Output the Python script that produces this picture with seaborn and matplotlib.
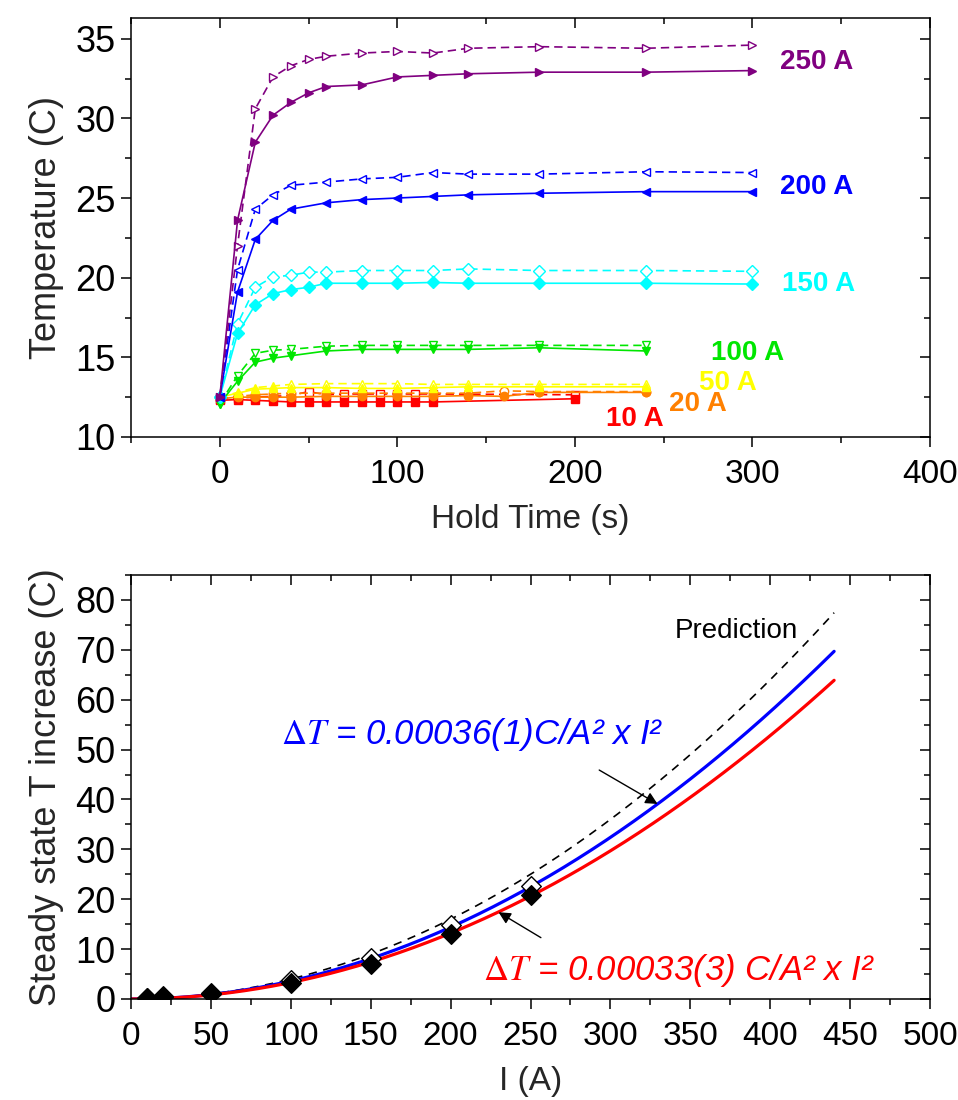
import numpy as np
import pandas as pd
import matplotlib
matplotlib.use("Agg")
import matplotlib.pyplot as plt
import seaborn as sns
from matplotlib import font_manager
from matplotlib.ticker import MultipleLocator

sns.set_theme(style="ticks")
plt.rcParams['font.family'] = ['Liberation Sans', 'DejaVu Sans']
plt.rcParams['mathtext.fontset'] = 'stix'

_names = {f.name for f in font_manager.fontManager.ttflist}
NARROW = 'Liberation Sans Narrow' if 'Liberation Sans Narrow' in _names else 'Liberation Sans'

# ---------------- Top panel data: temperature vs hold time ----------------
t_250 = [0, 10, 20, 30, 40, 50, 60, 80, 100, 120, 140, 180, 240, 300]
T_250_solid = [12.5, 23.6, 28.5, 30.2, 31.0, 31.6, 32.0, 32.1, 32.6, 32.7, 32.8, 32.9, 32.9, 33.0]
T_250_dash = [12.5, 22.0, 30.6, 32.6, 33.3, 33.7, 33.9, 34.1, 34.2, 34.1, 34.4, 34.5, 34.4, 34.6]

t_200 = [0, 10, 20, 30, 40, 60, 80, 100, 120, 140, 180, 240, 300]
T_200_solid = [12.5, 19.1, 22.4, 23.6, 24.3, 24.7, 24.9, 25.0, 25.1, 25.2, 25.3, 25.4, 25.4]
T_200_dash = [12.5, 20.5, 24.3, 25.2, 25.8, 26.0, 26.2, 26.3, 26.6, 26.5, 26.5, 26.65, 26.6]

t_150 = [0, 10, 20, 30, 40, 50, 60, 80, 100, 120, 140, 180, 240, 300]
T_150_solid = [12.5, 16.5, 18.3, 19.0, 19.25, 19.4, 19.65, 19.65, 19.65, 19.7, 19.65, 19.65, 19.65, 19.6]
T_150_dash = [12.5, 17.1, 19.4, 20.05, 20.15, 20.35, 20.35, 20.45, 20.45, 20.45, 20.55, 20.45, 20.45, 20.4]

t_100 = [0, 10, 20, 30, 40, 60, 80, 100, 120, 140, 180, 240]
T_100_solid = [12.1, 13.5, 14.7, 14.95, 15.1, 15.4, 15.5, 15.5, 15.5, 15.5, 15.6, 15.4]
T_100_dash = [12.1, 13.85, 15.25, 15.45, 15.5, 15.7, 15.75, 15.75, 15.75, 15.75, 15.75, 15.75]

t_50 = [0, 10, 20, 30, 40, 60, 80, 100, 120, 140, 180, 240]
T_50_solid = [12.5, 12.75, 13.0, 13.05, 13.1, 13.1, 13.05, 13.05, 13.1, 13.15, 13.15, 13.15]
T_50_dash = [12.5, 12.8, 13.1, 13.2, 13.3, 13.35, 13.35, 13.35, 13.3, 13.3, 13.3, 13.3]

t_20 = [0, 10, 20, 30, 40, 60, 80, 100, 120, 140, 160, 180, 240]
T_20_solid = [12.4, 12.5, 12.5, 12.5, 12.5, 12.55, 12.55, 12.55, 12.55, 12.6, 12.55, 12.8, 12.8]
T_20_dash = [12.4, 12.55, 12.65, 12.7, 12.75, 12.75, 12.75, 12.75, 12.75, 12.75, 12.9, 12.85, 12.85]

t_10 = [0, 10, 20, 30, 40, 50, 60, 70, 80, 90, 100, 110, 120, 200]
T_10_solid = [12.3, 12.35, 12.3, 12.25, 12.2, 12.2, 12.2, 12.2, 12.2, 12.2, 12.2, 12.2, 12.2, 12.4]
T_10_dash = [12.4, 12.45, 12.5, 12.55, 12.6, 12.85, 12.65, 12.7, 12.7, 12.7, 12.7, 12.7, 12.7, 12.65]

currents = ['10 A', '20 A', '50 A', '100 A', '150 A', '200 A', '250 A']
colors = ['#FF0000', '#FF8000', '#FFFF00', '#00E600', '#00FFFF', '#0000FF', '#800080']
markers = ['s', 'o', '^', 'v', 'D', '<', '>']
label_x = [234, 269, 286, 297, 337, 336, 336]
label_y = [11.1, 12.05, 13.4, 15.25, 19.6, 25.7, 33.55]

series = [
    (t_10, T_10_solid, T_10_dash),
    (t_20, T_20_solid, T_20_dash),
    (t_50, T_50_solid, T_50_dash),
    (t_100, T_100_solid, T_100_dash),
    (t_150, T_150_solid, T_150_dash),
    (t_200, T_200_solid, T_200_dash),
    (t_250, T_250_solid, T_250_dash),
]

# ---------------- Bottom panel data: steady state increase ----------------
I_meas = [10, 20, 50, 100, 150, 200, 250]
dT_filled = [0.2, 0.5, 1.0, 3.3, 7.0, 13.0, 20.8]
dT_open = [0.3, 0.6, 1.2, 3.8, 8.3, 14.9, 22.6]
coef_blue = 0.00036
coef_red = 0.00033
coef_pred = 0.0004
I_max_fit = 440

fig = plt.figure(figsize=(9.58, 11.0), dpi=100)
ax1 = fig.add_axes([131/958, 1-437/1100, 799/958, (437-18)/1100])
ax2 = fig.add_axes([131/958, 1-999/1100, 799/958, (999-575)/1100])

FS = 26
FSX = 24

for (t, Ts, Td), c, m in zip(series, colors, markers):
    sns.lineplot(x=t, y=Td, ax=ax1, color=c, marker=m, markersize=6,
                 markerfacecolor='white', markeredgecolor=c, markeredgewidth=1.0,
                 linewidth=1.2, linestyle=(0, (5, 3)), sort=False, errorbar=None)
    sns.lineplot(x=t, y=Ts, ax=ax1, color=c, marker=m, markersize=6,
                 markerfacecolor=c, markeredgecolor=c, markeredgewidth=1.0,
                 linewidth=1.2, linestyle='-', sort=False, errorbar=None)

for name, c, lx, ly in zip(currents, colors, label_x, label_y):
    ax1.text(lx, ly, name, color=c, fontsize=20, fontweight='bold',
             ha='center', va='center')

ax1.set_xlim(-50, 400)
ax1.set_ylim(10, 36.3)
ax1.xaxis.set_major_locator(MultipleLocator(100))
ax1.xaxis.set_minor_locator(MultipleLocator(50))
ax1.yaxis.set_major_locator(MultipleLocator(5))
ax1.yaxis.set_minor_locator(MultipleLocator(2.5))
ax1.set_xlabel('Hold Time (s)', fontsize=FSX, family=NARROW, labelpad=10)
ax1.set_ylabel('Temperature (C)', fontsize=FS, labelpad=8)

# bottom panel
I_grid = np.linspace(0, I_max_fit, 300)
sns.lineplot(x=I_grid, y=coef_pred * I_grid**2, ax=ax2, color='black',
             linewidth=1.2, linestyle=(0, (5, 4)), sort=False, errorbar=None)
sns.lineplot(x=I_grid, y=coef_blue * I_grid**2, ax=ax2, color='#0000FF',
             linewidth=2.3, sort=False, errorbar=None)
sns.lineplot(x=I_grid, y=coef_red * I_grid**2, ax=ax2, color='#FF0000',
             linewidth=2.3, sort=False, errorbar=None)
sns.scatterplot(x=I_meas, y=dT_open, ax=ax2, marker='D', s=100,
                facecolor='white', edgecolor='black', linewidth=1.0, zorder=3)
sns.scatterplot(x=I_meas, y=dT_filled, ax=ax2, marker='D', s=100,
                color='black', edgecolor='black', linewidth=1.0, zorder=4)

ax2.text(379, 73.7, 'Prediction', fontsize=20, color='black', ha='center', va='center')
ax2.text(94, 53.0, r'$\mathit{\Delta T}$' + ' = 0.00036(1)C/A² x I²', fontsize=25,
         color='#0000FF', style='italic', ha='left', va='center')
ax2.text(220, 5.8, r'$\mathit{\Delta T}$' + ' = 0.00033(3) C/A² x I²', fontsize=25,
         color='#FF0000', style='italic', ha='left', va='center')
ax2.annotate('', xy=(329.5, 39.1), xytext=(293, 45.9),
             arrowprops=dict(arrowstyle='-|>', color='black', lw=1.0,
                             mutation_scale=18, shrinkA=0, shrinkB=0))
ax2.annotate('', xy=(230, 17.4), xytext=(256.5, 12.3),
             arrowprops=dict(arrowstyle='-|>', color='black', lw=1.0,
                             mutation_scale=18, shrinkA=0, shrinkB=0))

ax2.set_xlim(0, 500)
ax2.set_ylim(0, 85)
ax2.xaxis.set_major_locator(MultipleLocator(50))
ax2.xaxis.set_minor_locator(MultipleLocator(25))
ax2.yaxis.set_major_locator(MultipleLocator(10))
ax2.yaxis.set_minor_locator(MultipleLocator(5))
ax2.set_xlabel('I (A)', fontsize=FSX, family=NARROW, labelpad=10)
ax2.set_ylabel('Steady state T increase (C)', fontsize=FS, labelpad=8)

for ax in (ax1, ax2):
    for s in ax.spines.values():
        s.set_visible(True)
        s.set_color('black')
        s.set_linewidth(1.1)
    ax.tick_params(which='both', direction='out', top=False, right=False,
                   color='black', width=1.1, labelcolor='black')
    ax.tick_params(axis='y', labelsize=FS)
    ax.tick_params(axis='x', labelsize=FSX)
    ax.tick_params(which='major', length=7, pad=4)
    ax.tick_params(axis='x', which='major', pad=9)
    ax.tick_params(which='minor', length=4)
    for lab in ax.get_xticklabels():
        lab.set_family(NARROW)
    ax.grid(False)

# inward mirrored ticks on top/right
for ax in (ax1, ax2):
    axt = ax.secondary_xaxis('top')
    axt.xaxis.set_major_locator(ax.xaxis.get_major_locator())
    axt.xaxis.set_minor_locator(ax.xaxis.get_minor_locator())
    axt.tick_params(which='both', direction='in', labeltop=False, color='black', width=1.1)
    axt.tick_params(which='major', length=7)
    axt.tick_params(which='minor', length=4)
    axt.spines['top'].set_visible(False)
    axr = ax.secondary_yaxis('right')
    axr.yaxis.set_major_locator(ax.yaxis.get_major_locator())
    axr.yaxis.set_minor_locator(ax.yaxis.get_minor_locator())
    axr.tick_params(which='both', direction='in', labelright=False, color='black', width=1.1)
    axr.tick_params(which='major', length=7)
    axr.tick_params(which='minor', length=4)
    axr.spines['right'].set_visible(False)

fig.savefig('out.png', dpi=100)
